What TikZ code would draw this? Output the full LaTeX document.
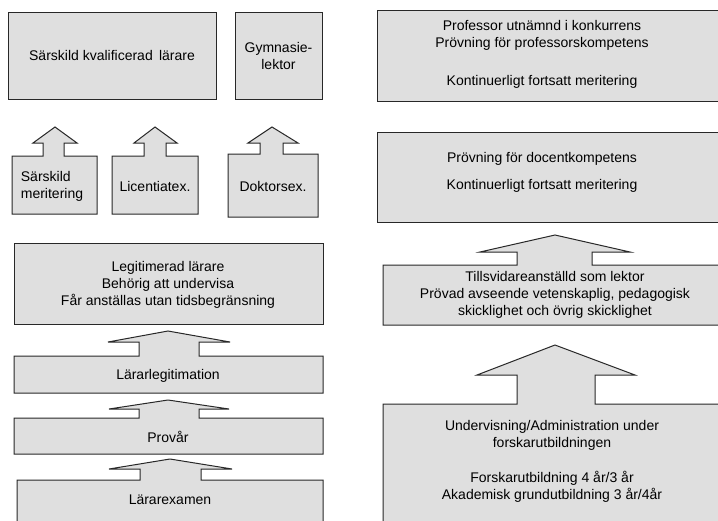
\documentclass[tikz,border=0pt]{standalone}
\usepackage{fontspec}
\setmainfont{Liberation Sans}
\definecolor{boxfill}{RGB}{223,223,223}
\definecolor{boxline}{RGB}{40,40,40}
\tikzset{
  shapebox/.style={draw=boxline, fill=boxfill, line width=1pt, line join=miter},
  lbl/.style={align=center, inner sep=0pt, font=\fontsize{14}{17}\selectfont},
  lbll/.style={align=left, inner sep=0pt, font=\fontsize{14}{17}\selectfont}
}
% arrow box: L T R B stemL stemR headY headL headR tipX tipY
\newcommand{\arrbox}[9]{%
  \path[shapebox] (#1,#4) -- (#1,#2) -- (#5,#2) -- (#5,#7) -- (#8,#7) -- #9 -- (#3,#2) -- (#3,#4) -- cycle;}
\begin{document}
\begin{tikzpicture}[x=1pt,y=-1pt]
\useasboundingbox (0,0) rectangle (718,520);
\clip (0,0) rectangle (718,520);
\fill[white] (0,0) rectangle (718,520);

% ---------- left column ----------
\path[shapebox] (8,12) rectangle (216,99);
\node[lbl] (sk) at (112,55) {Särskild kvalificerad\, lärare};
\path[shapebox] (235,12) rectangle (322,99);
\node[lbl] (gy) at (278.5,56) {Gymnasie-\\lektor};

\arrbox{12}{156}{97}{214}{43}{64}{143}{33}{(55,127) -- (77,143) -- (64,143) -- (64,156)}
\node[lbll] (sm) at (52,186) {Särskild\\meritering};
\arrbox{112}{156}{198}{214}{144}{166}{143}{134}{(155,127) -- (177,143) -- (166,143) -- (166,156)}
\node[lbl] (li) at (155,186) {Licentiatex.};
\arrbox{228}{154}{318}{217}{260}{283}{143}{248}{(272,127) -- (298,143) -- (283,143) -- (283,154)}
\node[lbl] (dk) at (273,186) {Doktorsex.};

\path[shapebox] (14,243) rectangle (323,324);
\node[lbl] (lg) at (168,284.5) {Legitimerad lärare\\Behörig att undervisa\\Får anställas utan tidsbegränsning};

\arrbox{14}{356}{323}{393}{139}{199}{342}{108}{(168,331) -- (230,342) -- (199,342) -- (199,356)}
\node[lbl] (ll) at (168,376) {Lärarlegitimation};
\arrbox{14}{418}{323}{454}{139}{199}{409}{109}{(168,400) -- (229,409) -- (199,409) -- (199,418)}
\node[lbl] (pv) at (168,437) {Provår};
\arrbox{17}{480}{323}{530}{140}{201}{469}{109}{(170,459) -- (232,469) -- (201,469) -- (201,480)}
\node[lbl] (le) at (170,500) {Lärarexamen};

% ---------- right column ----------
\path[shapebox] (377,10) rectangle (730,101);
\node[lbl] (pr) at (542,54) {Professor utnämnd i konkurrens\\Prövning för professorskompetens\\[21pt]Kontinuerligt fortsatt meritering};
\path[shapebox] (377,132) rectangle (730,222);
\node[lbl] (dc) at (542,172) {Prövning för docentkompetens\\[10pt]Kontinuerligt fortsatt meritering};

\arrbox{383}{265}{730}{325}{517}{592}{252}{480}{(555,235) -- (630,252) -- (592,252) -- (592,265)}
\node[lbl] (ts) at (555,295) {Tillsvidareanställd som lektor\\Prövad avseende vetenskaplig, pedagogisk\\skicklighet och övrig skicklighet};
\arrbox{383}{404}{730}{530}{517}{595}{375}{477}{(555,345) -- (635,375) -- (595,375) -- (595,404)}
\node[lbl] (uv) at (552,461.5) {Undervisning/Administration under\\forskarutbildningen\\[18pt]Forskarutbildning 4 år/3 år\\Akademisk grundutbildning 3 år/4år};
\end{tikzpicture}
\end{document}
